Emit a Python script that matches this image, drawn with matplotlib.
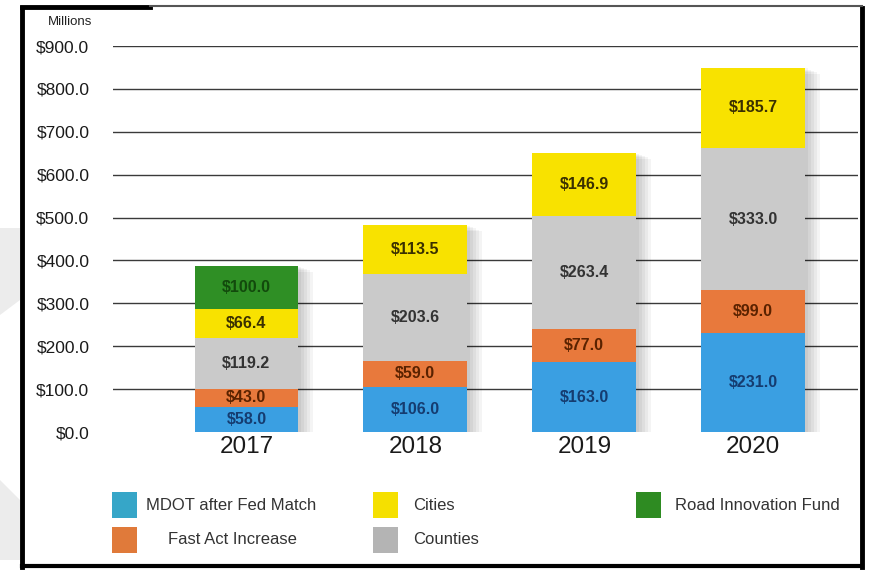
import matplotlib.pyplot as plt
from matplotlib.patches import Rectangle, Polygon
from matplotlib.lines import Line2D

plt.rcParams['font.family'] = ['Liberation Sans', 'DejaVu Sans']

# Datos del gráfico (millones de dólares)
years = ['2017', '2018', '2019', '2020']
mdot = [58.0, 106.0, 163.0, 231.0]
fast_act = [43.0, 59.0, 77.0, 99.0]
counties = [119.2, 203.6, 263.4, 333.0]
cities = [66.4, 113.5, 146.9, 185.7]
road_fund = [100.0, 0.0, 0.0, 0.0]
y_ticks = [0, 100, 200, 300, 400, 500, 600, 700, 800, 900]

series = [
  ('MDOT after Fed Match', mdot, '#3a9fe2', '#153c70', '#36a6c8'),
  ('Fast Act Increase', fast_act, '#e8793c', '#5a2200', '#e07a3a'),
  ('Counties', counties, '#cacaca', '#333333', '#b4b4b4'),
  ('Cities', cities, '#f8e200', '#3a3000', '#f5e000'),
  ('Road Innovation Fund', road_fund, '#2f8f25', '#124a0c', '#2e8b22'),
]

W, H = 871.0, 570.0
fig = plt.figure(figsize=(8.71, 5.70), dpi=100)
fig.patch.set_facecolor('white')

# marca de agua gris clara a la izquierda, fuera del marco
fig.patches.append(Polygon([(0, 1 - 228 / H), (20 / W, 1 - 228 / H), (20 / W, 1 - 300 / H), (0, 1 - 315 / H)],
                           closed=True, transform=fig.transFigure, facecolor='#ececec',
                           edgecolor='none', zorder=-1))
fig.patches.append(Polygon([(0, 1 - 480 / H), (20 / W, 1 - 500 / H), (20 / W, 1 - 560 / H), (0, 1 - 560 / H)],
                           closed=True, transform=fig.transFigure, facecolor='#ececec',
                           edgecolor='none', zorder=-1))

ax = fig.add_axes([113 / W, 1 - 432 / H, 745 / W, 386 / H])
ax.set_facecolor('none')
x = list(range(len(years)))
width = 0.615

for g in y_ticks[1:]:
  ax.axhline(g, color='#3a3a3a', lw=1.0, zorder=1)

totals = [sum(v) for v in zip(mdot, fast_act, counties, cities, road_fund)]
# sombra difusa de las barras
for k in range(1, 6):
  ax.bar([i + 0.012 * k for i in x], [t + 2 for t in totals], width=width + 0.01 * k,
         bottom=-3.0 * k, color='black', alpha=0.045, zorder=2, linewidth=0)

bottom = [0.0] * len(years)
for name, vals, color, tcolor, lcolor in series:
  ax.bar(x, vals, width=width, bottom=bottom, color=color, zorder=3, linewidth=0)
  for i, v in enumerate(vals):
    if v > 0:
      ax.text(x[i], bottom[i] + v / 2, '${:.1f}'.format(v), ha='center', va='center',
              fontsize=11.5, fontweight='bold', color=tcolor, zorder=4)
  bottom = [b + v for b, v in zip(bottom, vals)]

ax.set_xlim(-0.79, 3.62)
ax.set_ylim(0, 900)
ax.set_yticks(y_ticks)
ax.set_yticklabels(['${:.1f}'.format(t) for t in y_ticks], fontsize=12.5, color='#1a1a1a')
ax.set_xticks(x)
ax.set_xticklabels(years, fontsize=17.5, color='#1a1a1a')
ax.tick_params(axis='y', length=0, pad=17)
ax.tick_params(axis='x', length=0, pad=3)
for s in ax.spines.values():
  s.set_visible(False)

fig.text(70 / W, 1 - 22 / H, 'Millions', fontsize=9.5, ha='center', va='center', color='#222222')

# leyenda
leg_pos = {
  'MDOT after Fed Match': (112, 505, 146),
  'Fast Act Increase': (112, 540, 168),
  'Cities': (373, 505, 413),
  'Counties': (373, 540, 413),
  'Road Innovation Fund': (636, 505, 675),
}
for name, vals, color, tcolor, lcolor in series:
  sx, sy, tx = leg_pos[name]
  fig.patches.append(Rectangle((sx / W, 1 - (sy + 13) / H), 25 / W, 26 / H,
                               transform=fig.transFigure, facecolor=lcolor,
                               edgecolor='none'))
  fig.text(tx / W, 1 - sy / H, name, fontsize=12, ha='left', va='center', color='#333333')

# marco
fig.lines.append(Line2D([22 / W, 22 / W], [1 - 8 / H, 1 - 567 / H], transform=fig.transFigure,
                        color='black', lw=3.5))
fig.lines.append(Line2D([862 / W, 862 / W], [1 - 8 / H, 1 - 567 / H], transform=fig.transFigure,
                        color='black', lw=3.5))
fig.lines.append(Line2D([22 / W, 862 / W], [1 - 566 / H, 1 - 566 / H], transform=fig.transFigure,
                        color='black', lw=3))
fig.lines.append(Line2D([22 / W, 150 / W], [1 - 7 / H, 1 - 7 / H], transform=fig.transFigure,
                        color='black', lw=3.5))
fig.lines.append(Line2D([150 / W, 862 / W], [1 - 6 / H, 1 - 6 / H], transform=fig.transFigure,
                        color='#555555', lw=1.5))

fig.savefig('out.png', dpi=100)
